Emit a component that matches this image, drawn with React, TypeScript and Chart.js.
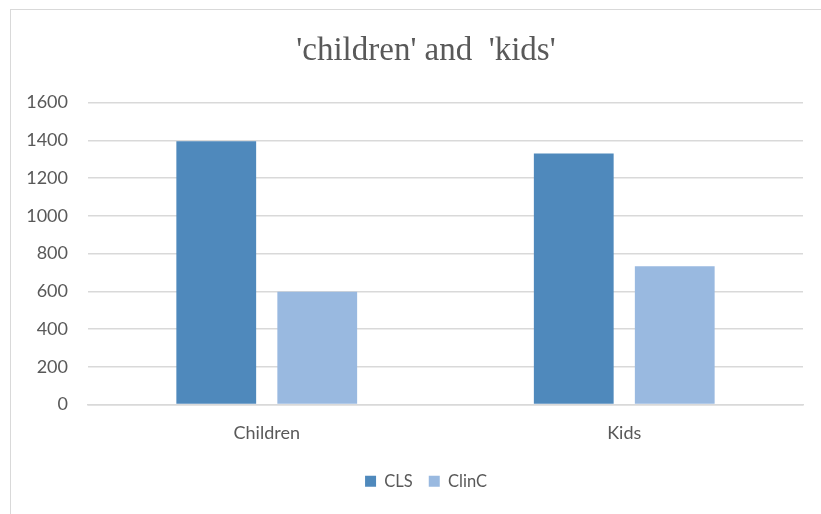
import React, { useEffect, useRef } from "react";
import { Chart, registerables } from "chart.js";

Chart.register(...registerables);

const categories = ["Children", "Kids"];
const clsValues = [1395, 1330];
const clincValues = [598, 732];
const seriesNames = ["CLS", "ClinC"];
const titleText = "'children' and  'kids'";

const TEXT_GRAY = "#595959";
const GRID_GRAY = "#d9d9d9";
const SANS = "Lato, sans-serif";

export default function App() {
  const canvasRef = useRef<HTMLCanvasElement | null>(null);

  useEffect(() => {
    if (!canvasRef.current) return;
    const chart = new Chart(canvasRef.current, {
      type: "bar",
      data: {
        labels: categories,
        datasets: [
          {
            label: seriesNames[0],
            data: clsValues,
            backgroundColor: "#4f89bc",
            categoryPercentage: 0.565,
            barPercentage: 0.79,
          },
          {
            label: seriesNames[1],
            data: clincValues,
            backgroundColor: "#99b9e0",
            categoryPercentage: 0.565,
            barPercentage: 0.79,
          },
        ],
      },
      options: {
        responsive: false,
        animation: false,
        layout: { padding: { left: 20, right: 8, top: 0, bottom: 14.5 } },
        plugins: {
          title: {
            display: true,
            text: titleText,
            color: TEXT_GRAY,
            font: { family: "'Liberation Serif', serif", size: 33, weight: "normal" },
            padding: { top: 32, bottom: 30.9 },
          },
          legend: {
            position: "bottom",
            labels: {
              color: TEXT_GRAY,
              font: { family: SANS, size: 16.5 },
              boxWidth: 11,
              boxHeight: 11,
              padding: 16,
            },
          },
          tooltip: { enabled: false },
        },
        scales: {
          x: {
            grid: { display: false, drawTicks: false },
            border: { display: true, color: GRID_GRAY, width: 1.5 },
            ticks: {
              color: TEXT_GRAY,
              font: { family: SANS, size: 18 },
              padding: 18,
            },
            afterFit: (scale: any) => {
              scale.height = 52.5;
            },
          },
          y: {
            min: 0,
            max: 1600,
            grid: { color: GRID_GRAY, lineWidth: 1.5, drawTicks: false },
            border: { display: false },
            ticks: {
              stepSize: 200,
              color: TEXT_GRAY,
              font: { family: SANS, size: 18 },
              padding: 20,
              callback: (value: any) => String(value),
            },
            afterFit: (scale: any) => {
              scale.width = 68;
            },
          },
          // empty right-hand gutter between the plot and the chart's right edge
          gutter: {
            type: "linear",
            axis: "y",
            position: "right",
            grid: { display: false, drawTicks: false },
            border: { display: false },
            ticks: { display: false },
            afterFit: (scale: any) => {
              scale.width = 29;
            },
          },
        },
      },
    });
    return () => chart.destroy();
  }, []);

  return (
    <div
      style={{
        position: "fixed",
        left: 0,
        top: 0,
        width: 821,
        height: 514,
        overflow: "hidden",
        background: "#ffffff",
      }}
    >
      <div
        style={{
          position: "absolute",
          left: 10,
          top: 9,
          width: 900,
          height: 600,
          border: `1.5px solid ${GRID_GRAY}`,
        }}
      />
      <canvas
        ref={canvasRef}
        width={840}
        height={514}
        style={{ position: "absolute", left: 0, top: 0 }}
      />
    </div>
  );
}
